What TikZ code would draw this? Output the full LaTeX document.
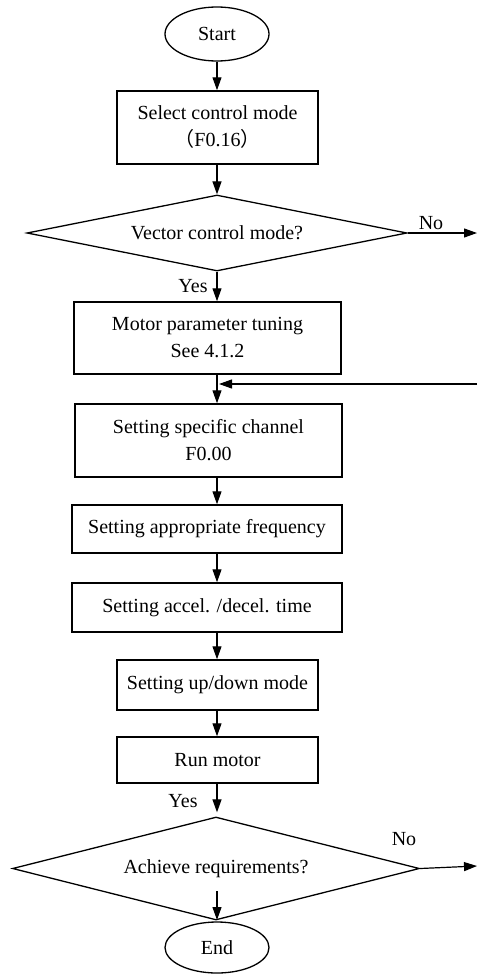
\documentclass[tikz,border=0pt]{standalone}
\usepackage{fontspec}
\setmainfont{Liberation Serif}
\newfontfamily\cjk{Noto Sans CJK SC}
\usetikzlibrary{shapes.geometric,arrows.meta}
\begin{document}
\begin{tikzpicture}[x=1pt,y=1pt,
  every node/.style={font=\fontsize{20}{27}\selectfont, align=center, inner sep=0pt},
  box/.style={draw, line width=1.5pt, rectangle},
  term/.style={draw, line width=1.3pt, ellipse, minimum width=104pt},
  dec/.style={draw, line width=1.3pt, diamond, aspect=5},
  arr/.style={line width=1.2pt, -{Triangle[length=13pt,width=9pt]}},
  lbl/.style={font=\fontsize{20}{24}\selectfont}]
\useasboundingbox (0,0) rectangle (477,-974);
\node[term, minimum height=54pt] (start) at (217,-34) {Start};
\node[box, minimum width=201pt, minimum height=73pt] (b1) at (217.5,-127.5) {Select control mode\\{\cjk （}F0.16{\cjk ）}};
\node[dec, minimum width=380pt, minimum height=76pt] (d1) at (217,-233) {Vector control mode?};
\node[box, minimum width=267pt, minimum height=72pt] (b2) at (207.5,-338) {Motor parameter tuning\\See 4.1.2};
\node[box, minimum width=267pt, minimum height=73pt] (b3) at (208.5,-440.5) {Setting specific channel\\F0.00};
\node[box, minimum width=270pt, minimum height=48pt] (b4) at (207,-529) {Setting appropriate frequency};
\node[box, minimum width=270pt, minimum height=49pt] (b5) at (207,-607.5) {Setting accel. /decel. time};
\node[box, minimum width=201pt, minimum height=50pt] (b6) at (217.5,-685) {Setting up/down mode};
\node[box, minimum width=201pt, minimum height=46pt] (b7) at (217.5,-760) {Run motor};
\node[dec, minimum width=407pt, minimum height=103pt] (d2) at (216,-868.5) {Achieve requirements?};
\node[term, minimum height=51pt] (end) at (217,-947.5) {End};

\coordinate (x0) at (217,0);
\coordinate (fbR) at (477,-384);
\coordinate (fbL) at (219,-384);
\coordinate (no1) at (477,-233);
\coordinate (no2) at (477,-866);
\coordinate (inA) at (217,-891);
\coordinate (inB) at (217,-920);

\draw[arr] (start.south) -- (x0 |- b1.north);
\draw[arr] (x0 |- b1.south) -- (d1.north);
\draw[arr] (d1.south) -- (x0 |- b2.north);
\draw[arr] (x0 |- b2.south) -- (x0 |- b3.north);
\draw[arr] (fbR) -- (fbL);
\draw[arr] (x0 |- b3.south) -- (x0 |- b4.north);
\draw[arr] (x0 |- b4.south) -- (x0 |- b5.north);
\draw[arr] (x0 |- b5.south) -- (x0 |- b6.north);
\draw[arr] (x0 |- b6.south) -- (x0 |- b7.north);
\draw[arr] (x0 |- b7.south) -- ([yshift=4pt]x0 |- d2.north);
\draw[arr] (inA) -- (inB);
\draw[arr] (d1.east) -- (no1);
\draw[arr] (d2.east) -- (no2);

\node[lbl] (no1l) at (431,-223) {No};
\node[lbl] (yes1) at (193,-286) {Yes};
\node[lbl] (yes2) at (183,-801) {Yes};
\node[lbl] (no2l) at (404,-839) {No};
\end{tikzpicture}
\end{document}
